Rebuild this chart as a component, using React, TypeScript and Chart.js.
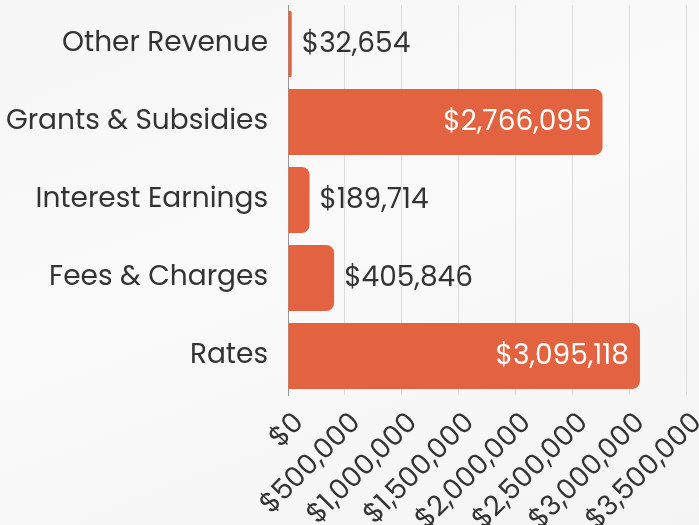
import React, { useEffect, useRef } from "react";
import { Chart, registerables } from "chart.js";

Chart.register(...registerables);

const categories = ["Other Revenue", "Grants & Subsidies", "Interest Earnings", "Fees & Charges", "Rates"];
const values = [32654, 2766095, 189714, 405846, 3095118];
const xMax = 3500000;
const xStep = 500000;

const FONT = "Poppins, 'Open Sans', 'Noto Sans', sans-serif";
const BAR_COLOR = "#E3623F";
const TEXT_COLOR = "#333333";

const fmt = (v: number) => "$" + v.toLocaleString("en-US");

const valueLabels = {
  id: "valueLabels",
  afterDatasetsDraw(chart: any) {
    const ctx = chart.ctx;
    const meta = chart.getDatasetMeta(0);
    ctx.save();
    ctx.font = `28px ${FONT}`;
    ctx.textBaseline = "middle";
    meta.data.forEach((bar: any, i: number) => {
      const text = fmt(values[i]);
      const w = ctx.measureText(text).width;
      const barLen = bar.x - bar.base;
      if (barLen > w + 24) {
        ctx.fillStyle = "#ffffff";
        ctx.textAlign = "right";
        ctx.fillText(text, bar.x - 11, bar.y + 1);
      } else {
        ctx.fillStyle = TEXT_COLOR;
        ctx.textAlign = "left";
        ctx.fillText(text, bar.x + 10, bar.y + 1);
      }
    });
    ctx.restore();
  },
};

export default function App() {
  const ref = useRef<HTMLCanvasElement | null>(null);
  useEffect(() => {
    document.body.style.margin = "0";
    const chart = new Chart(ref.current!, {
      type: "bar",
      data: {
        labels: categories,
        datasets: [
          {
            data: values,
            backgroundColor: BAR_COLOR,
            borderRadius: 8,
            borderSkipped: "start",
            barPercentage: 0.93,
            categoryPercentage: 0.91,
          },
        ],
      },
      plugins: [valueLabels],
      options: {
        indexAxis: "y",
        animation: false,
        responsive: false,
        layout: { padding: { top: 5, right: 13, left: 0, bottom: 0 } },
        plugins: { legend: { display: false }, tooltip: { enabled: false } },
        scales: {
          x: {
            min: 0,
            max: xMax,
            ticks: {
              stepSize: xStep,
              minRotation: 45,
              maxRotation: 45,
              color: TEXT_COLOR,
              font: { family: FONT, size: 28 },
              padding: 12,
              showLabelBackdrop: true,
              backdropColor: "rgba(0,0,0,0)",
              backdropPadding: 0,
              callback: (v: any) => fmt(Number(v)),
            },
            grid: { color: "#dddddd", drawTicks: false },
            border: { display: false },
            afterFit: (s: any) => {
              s.height = 130;
              s.paddingLeft = 0;
              s.paddingRight = 0;
            },
          },
          y: {
            ticks: {
              color: TEXT_COLOR,
              font: { family: FONT, size: 28 },
              padding: 20,
            },
            grid: { display: false, drawTicks: false },
            border: { display: true, color: "#999999", width: 1 },
            afterFit: (s: any) => {
              s.width = 288;
              s.paddingTop = 0;
              s.paddingBottom = 0;
            },
          },
        },
      },
    });
    return () => chart.destroy();
  }, []);
  return (
    <div
      style={{
        width: 699,
        height: 525,
        background: "linear-gradient(160deg, #f6f6f6 0%, #fafafa 45%, #f4f4f4 100%)",
      }}
    >
      <canvas ref={ref} width={699} height={525} />
    </div>
  );
}
